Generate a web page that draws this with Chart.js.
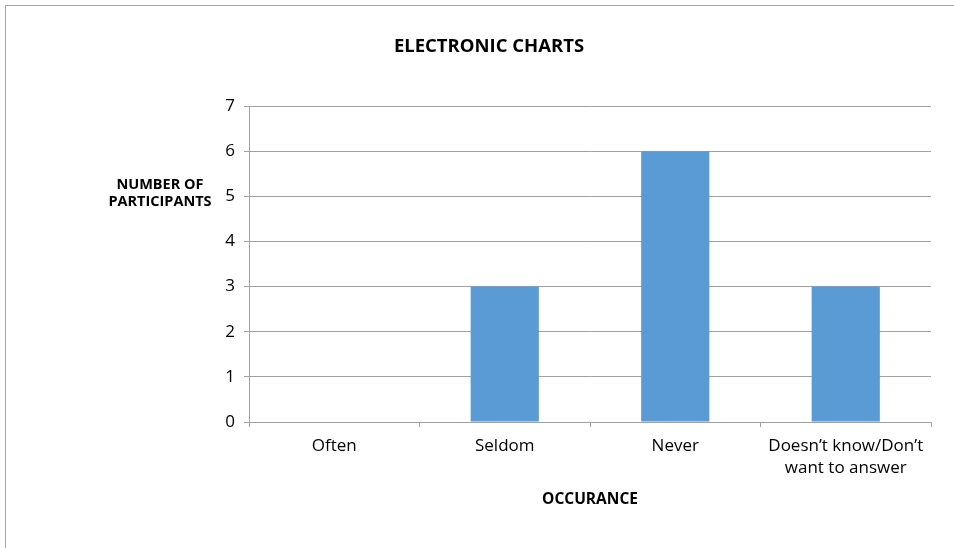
<!DOCTYPE html>
<html>
<head>
<meta charset="utf-8">
<script src="https://cdn.jsdelivr.net/npm/chart.js@4.4.1/dist/chart.umd.min.js"></script>
<style>
    html, body { margin: 0; padding: 0; background: #fff; overflow: hidden; }
    #frame {
        position: absolute; left: 5px; top: 5px;
        width: 966px; height: 560px;
        border-top: 1px solid #a6a6a6; border-left: 1px solid #a6a6a6;
    }
    #frame canvas { display: block; }
</style>
</head>
<body>
<div id="frame"><canvas id="occChart" width="966" height="543"></canvas></div>
<script>
var categories = ['Often', 'Seldom', 'Never', ['Doesn\u2019t know/Don\u2019t', 'want to answer']];
var participants = [0, 3, 6, 3];
var yTicks = [0, 1, 2, 3, 4, 5, 6, 7];

var chartTitle = 'ELECTRONIC CHARTS';
var yTitleLines = ['NUMBER OF', 'PARTICIPANTS'];
var xTitle = 'OCCURANCE';

var fontName = '"Open Sans", sans-serif';
var gridGray = '#a0a0a0';

// chart title sits off-centre and the y axis title is horizontal, so both are drawn by hand
var textPlugin = {
    id: 'extraText',
    afterDraw: function(chart) {
        var ctx = chart.ctx;
        ctx.save();
        ctx.fillStyle = '#000';
        ctx.textAlign = 'center';
        ctx.textBaseline = 'middle';
        ctx.font = 'bold 18.5px ' + fontName;
        ctx.fillText(chartTitle, 483, 41);
        ctx.font = 'bold 14.5px ' + fontName;
        ctx.fillText(yTitleLines[0], 154, 179);
        ctx.fillText(yTitleLines[1], 154, 196);
        ctx.restore();
    }
};

var ctx = document.getElementById('occChart').getContext('2d');
var myChart = new Chart(ctx, {
    type: 'bar',
    data: {
        labels: categories,
        datasets: [{
            label: 'Participants',
            data: participants,
            backgroundColor: '#5b9bd5',
            borderWidth: 0,
            barPercentage: 0.4,
            categoryPercentage: 1
        }]
    },
    options: {
        responsive: false,
        animation: false,
        layout: { padding: { left: 0, right: 41, top: 100, bottom: 0 } },
        plugins: {
            legend: { display: false },
            tooltip: { enabled: false },
            title: { display: false }
        },
        scales: {
            x: {
                grid: {
                    offset: true,
                    drawOnChartArea: false,
                    drawTicks: true,
                    tickLength: 5,
                    color: gridGray
                },
                border: { color: gridGray, width: 1 },
                ticks: {
                    color: '#000',
                    font: { family: fontName, size: 17, lineHeight: 1.3 },
                    padding: 8,
                    maxRotation: 0
                },
                title: {
                    display: true,
                    text: xTitle,
                    color: '#000',
                    font: { family: fontName, size: 15.5, weight: 'bold' },
                    padding: { top: 0, bottom: 40 }
                },
                afterFit: function(scale) { scale.height = 127; }
            },
            y: {
                min: 0,
                max: 7,
                afterBuildTicks: function(scale) {
                    scale.ticks = yTicks.map(function(v) { return { value: v }; });
                },
                grid: {
                    color: gridGray,
                    tickLength: 5
                },
                border: { color: gridGray, width: 1 },
                ticks: {
                    color: '#000',
                    font: { family: fontName, size: 17 },
                    padding: 9
                },
                afterFit: function(scale) { scale.width = 243; }
            }
        }
    },
    plugins: [textPlugin]
});
</script>
</body>
</html>
